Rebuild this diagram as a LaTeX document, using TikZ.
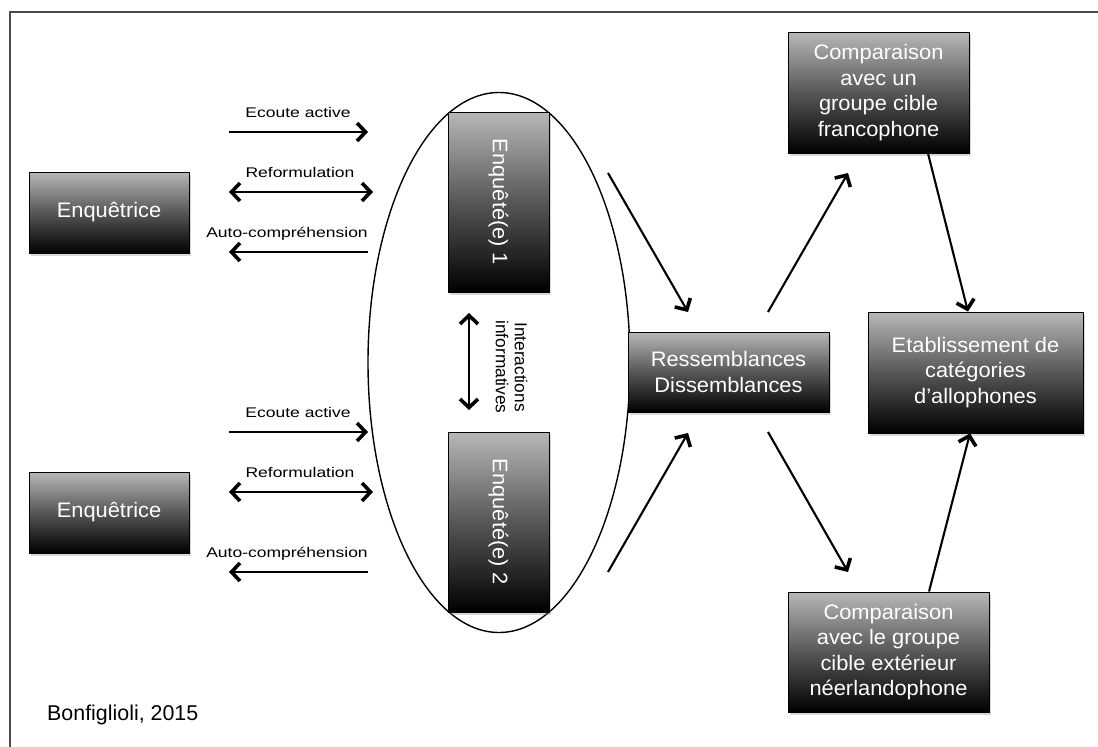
\documentclass[tikz,border=0pt]{standalone}
\usepackage{fontspec}
\setmainfont{Liberation Sans}
\newfontfamily\boxfont[FakeStretch=1.04]{Liberation Sans}
\newfontfamily\lblfont[FakeStretch=1.25]{Liberation Sans}
\usetikzlibrary{arrows.meta,shapes.geometric,shadows,calc}
\tikzset{
  box/.style={draw=black, line width=0.9pt,
    top color=black!28, bottom color=black, middle color=black!66,
    drop shadow={shadow xshift=1.5pt, shadow yshift=-2.5pt, opacity=0.3},
    text=white, font=\boxfont\fontsize{21}{25.5}\selectfont,
    align=center, inner sep=0pt},
  boxtext/.style={text=white, font=\boxfont\fontsize{21}{25.5}\selectfont,
    align=center, inner sep=0pt},
  lbl/.style={font=\lblfont\fontsize{14}{18}\selectfont, anchor=base, inner sep=0pt},
  chev/.tip={Straight Barb[length=8.5pt,width=18pt,line width=3.6pt]},
  arr/.style={line width=2.1pt, -chev},
  darr/.style={line width=2.1pt, chev-chev},
}
\begin{document}
\begin{tikzpicture}[x=1pt, y=-1pt]
\useasboundingbox (0,0) rectangle (1098,747);
\fill[white] (0,0) rectangle (1098,747);
% frame
\draw[line width=1.1pt, black!70] (10,747) -- (10,12) -- (1098,12);

% ellipse
\node[ellipse, draw=black, line width=1.4pt, minimum width=262pt, minimum height=540pt, inner sep=0pt] (ell) at (499,362.5) {};

% boxes
\node[box, minimum width=160pt, minimum height=81pt] (enq1) at (109,212.5) {Enquêtrice};
\node[box, minimum width=160pt, minimum height=81pt] (enq2) at (109,512.5) {Enquêtrice};

\node[box, minimum width=101pt, minimum height=180pt] (e1) at (498.5,202) {};
\node[boxtext, rotate=-90] (e1t) at (e1.center) {Enquêté(e) 1};
\node[box, minimum width=101pt, minimum height=180pt] (e2) at (498.5,522) {};
\node[boxtext, rotate=-90] (e2t) at (e2.center) {Enquêté(e) 2};

\node[box, minimum width=201pt, minimum height=80pt] (res) at (728.5,372) {Ressemblances\\Dissemblances};
\node[box, minimum width=181pt, minimum height=121pt] (comp1) at (878.5,92.5) {Comparaison\\avec un\\groupe cible\\francophone};
\node[box, minimum width=215pt, minimum height=121pt] (etab) at (975.5,372.5) {Etablissement de\\catégories\\d’allophones};
\node[box, minimum width=201pt, minimum height=120pt] (comp2) at (888.5,652) {Comparaison\\avec le groupe\\cible extérieur\\néerlandophone};

% left arrows, group 1
\coordinate (a1s) at (229,132); \coordinate (a1e) at (368,132);
\coordinate (a2s) at (229,192); \coordinate (a2e) at (373,192);
\coordinate (a3s) at (368,252); \coordinate (a3e) at (229,252);
\draw[arr] (a1s) -- (a1e);
\draw[darr] (a2s) -- (a2e);
\draw[arr] (a3s) -- (a3e);
\node[lbl] (l1) at (298,117) {Ecoute active};
\node[lbl] (l2) at (300,177) {Reformulation};
\node[lbl] (l3) at (287,237) {Auto-compréhension};

% left arrows, group 2
\coordinate (b1s) at (229,432); \coordinate (b1e) at (368,432);
\coordinate (b2s) at (229,492); \coordinate (b2e) at (373,492);
\coordinate (b3s) at (368,572); \coordinate (b3e) at (229,572);
\draw[arr] (b1s) -- (b1e);
\draw[darr] (b2s) -- (b2e);
\draw[arr] (b3s) -- (b3e);
\node[lbl] (m1) at (298,417) {Ecoute active};
\node[lbl] (m2) at (300,477) {Reformulation};
\node[lbl] (m3) at (287,557) {Auto-compréhension};

% interactions
\coordinate (is) at (469,313); \coordinate (ie) at (469,410);
\draw[darr] (is) -- (ie);
\node[font=\fontsize{17.3}{19}\selectfont, align=center, rotate=-90, inner sep=0pt] (inter) at (511.5,367) {Interactions\\informatives};

% middle arrows
\coordinate (c1s) at (608,173); \coordinate (c1e) at (688,312);
\coordinate (c2s) at (608,572); \coordinate (c2e) at (688,433);
\draw[arr] (c1s) -- (c1e);
\draw[arr] (c2s) -- (c2e);

\coordinate (d1s) at (768,312); \coordinate (d1e) at (848,173);
\coordinate (d2s) at (768,432); \coordinate (d2e) at (848,572);
\draw[arr] (d1s) -- (d1e);
\draw[arr] (d2s) -- (d2e);

% to Etablissement
\draw[arr] ($(comp1.south)+(49.5,0)$) -- ($(etab.north)+(-7.5,0)$);
\draw[arr] ($(comp2.north)+(40.5,0)$) -- ($(etab.south)+(-5.5,0)$);

% source
\node[anchor=base west, inner sep=0pt, font=\fontsize{21.4}{24}\selectfont] (src) at (47,720) {Bonfiglioli, 2015};
\end{tikzpicture}
\end{document}
